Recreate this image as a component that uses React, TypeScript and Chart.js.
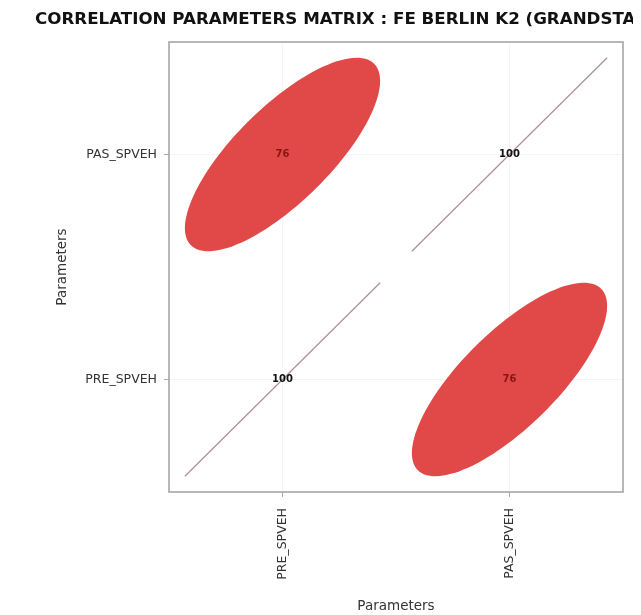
import { useEffect, useRef } from "react";
import { Chart, registerables } from "chart.js";

Chart.register(...registerables);

const TITLE = "CORRELATION PARAMETERS MATRIX : FE BERLIN K2 (GRANDSTANDS)";
const AXIS_TITLE = "Parameters";
const PARAMS = ["PRE_SPVEH", "PAS_SPVEH"];
// correlation (%) of each parameter with PARAMS[0], PARAMS[1]
const CORR_PRE = [100, 76];
const CORR_PAS = [76, 100];

const MATRIX = [CORR_PRE, CORR_PAS];

const TITLE_FONT = "bold 16.7px 'DejaVu Sans'";
const TITLE_LEFT = 27;
const TITLE_MID = 12;
const TITLE_BLOCK = 34;
const W = 633;
const H = 607;

const ellipsePlugin = {
  id: "corrEllipses",
  afterDatasetsDraw(chart: any) {
    const { ctx, scales } = chart;
    const xs = scales.x;
    const ys = scales.y;
    const pts = chart.data.datasets[0].data as { x: number; y: number; v: number }[];
    const cw = Math.abs(xs.getPixelForValue(2) - xs.getPixelForValue(1));
    const ch = Math.abs(ys.getPixelForValue(1) - ys.getPixelForValue(2));
    const rx = 0.43 * cw;
    const ry = 0.43 * ch;
    pts.forEach((p) => {
      const cx = xs.getPixelForValue(p.x);
      const cy = ys.getPixelForValue(p.y);
      const r = p.v / 100;
      ctx.save();
      if (r >= 0.999) {
        ctx.strokeStyle = "rgba(140,95,95,0.7)";
        ctx.lineWidth = 1.2;
        ctx.beginPath();
        ctx.moveTo(cx - rx, cy + ry);
        ctx.lineTo(cx + rx, cy - ry);
        ctx.stroke();
        ctx.fillStyle = "#111";
      } else {
        const d = Math.acos(r);
        ctx.fillStyle = "#E14848";
        ctx.beginPath();
        const n = 120;
        for (let k = 0; k <= n; k++) {
          const t = (2 * Math.PI * k) / n;
          const ex = Math.cos(t + d / 2);
          const ey = Math.cos(t - d / 2);
          const px = cx + rx * ex;
          const py = cy - ry * ey;
          if (k === 0) ctx.moveTo(px, py);
          else ctx.lineTo(px, py);
        }
        ctx.closePath();
        ctx.fill();
        ctx.fillStyle = "#8A1414";
      }
      ctx.font = "bold 10px 'DejaVu Sans'";
      ctx.textAlign = "center";
      ctx.textBaseline = "middle";
      ctx.fillText(String(p.v), cx, cy);
      ctx.restore();
    });
  },
  afterDraw(chart: any) {
    const { ctx, chartArea } = chart;
    ctx.save();
    ctx.strokeStyle = "#a0a0a0";
    ctx.lineWidth = 1.5;
    ctx.strokeRect(chartArea.left, chartArea.top, chartArea.right - chartArea.left, chartArea.bottom - chartArea.top);
    // title (drawn without width squeezing so it overflows the right edge like the original)
    ctx.font = TITLE_FONT;
    ctx.fillStyle = "#111";
    ctx.textAlign = "left";
    ctx.textBaseline = "middle";
    ctx.fillText(TITLE, TITLE_LEFT, TITLE_MID);
    ctx.restore();
  },
};

export default function App() {
  const ref = useRef<HTMLCanvasElement | null>(null);
  useEffect(() => {
    document.documentElement.style.overflow = "hidden";
    document.body.style.overflow = "visible";
    const cells: { x: number; y: number; v: number }[] = [];
    MATRIX.forEach((row, i) => {
      row.forEach((v, j) => {
        cells.push({ x: i + 1, y: j + 1, v });
      });
    });
    Chart.defaults.font.family = "'DejaVu Sans'";
    const tickSetter = (scale: any) => {
      scale.ticks = PARAMS.map((_, i) => ({ value: i + 1 }));
    };
    const chart = new Chart(ref.current!, {
      type: "scatter",
      data: {
        datasets: [
          {
            data: cells,
            pointRadius: 0,
            pointHoverRadius: 0,
            showLine: false,
          },
        ],
      },
      options: {
        animation: false,
        responsive: false,
        events: [],
        layout: { padding: { left: 27, right: 18, top: TITLE_BLOCK, bottom: 0 } },
        plugins: {
          legend: { display: false },
          tooltip: { enabled: false },
          title: { display: false },
        },
        scales: {
          x: {
            type: "linear",
            min: 0.5,
            max: 2.5,
            afterBuildTicks: tickSetter,
            afterFit: (s: any) => {
              s.height = 123;
            },
            ticks: {
              autoSkip: false,
              minRotation: 90,
              maxRotation: 90,
              padding: 11,
              color: "#333",
              font: { size: 12.5 },
              callback: (v: any) => PARAMS[Math.round(Number(v)) - 1] ?? "",
            },
            grid: { color: "rgba(0,0,0,0.045)", tickColor: "#aaa", tickLength: 5 },
            border: { display: false },
            title: {
              display: true,
              text: AXIS_TITLE,
              color: "#333",
              font: { size: 13.5 },
              padding: { top: 6, bottom: 0 },
            },
          },
          y: {
            type: "linear",
            min: 0.5,
            max: 2.5,
            afterBuildTicks: tickSetter,
            afterFit: (s: any) => {
              s.width = 134;
            },
            ticks: {
              autoSkip: false,
              padding: 7,
              color: "#333",
              font: { size: 12.5 },
              callback: (v: any) => PARAMS[Math.round(Number(v)) - 1] ?? "",
            },
            grid: { color: "rgba(0,0,0,0.045)", tickColor: "#aaa", tickLength: 5 },
            border: { display: false },
            title: {
              display: true,
              text: AXIS_TITLE,
              color: "#333",
              font: { size: 13.5 },
              padding: { top: 19, bottom: 0 },
            },
          },
        },
      },
      plugins: [ellipsePlugin],
    });
    return () => chart.destroy();
  }, []);
  return (
    <div style={{ width: W, height: H }}>
      <canvas ref={ref} width={W} height={H} style={{ display: "block", width: W, height: H }} />
    </div>
  );
}
